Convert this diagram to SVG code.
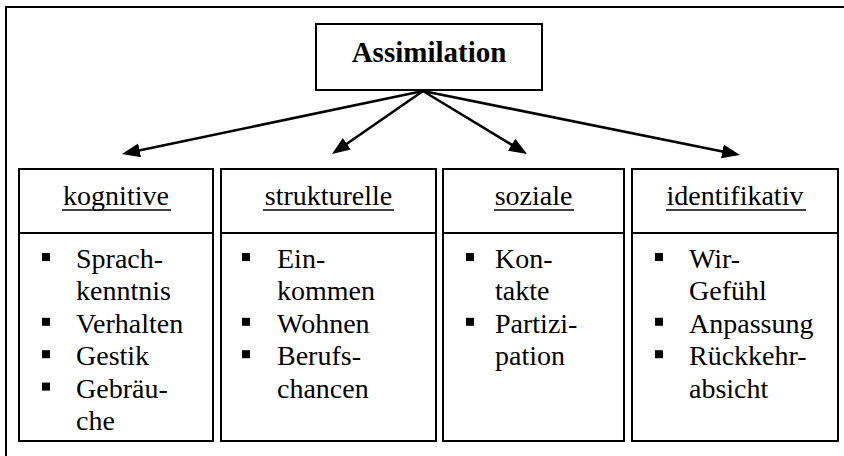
<svg xmlns="http://www.w3.org/2000/svg" width="844" height="456" viewBox="0 0 844 456">
  <style>
    .frame { fill: #fff; stroke: #000; stroke-width: 2; }
    .box { fill: #fff; stroke: #000; stroke-width: 2; }
    .rule { stroke: #000; stroke-width: 2; }
    .title { font-family: "Liberation Serif", "Times New Roman", serif; font-size: 29px; font-weight: bold; fill: #000; text-anchor: middle; }
    .head { font-family: "Liberation Serif", "Times New Roman", serif; font-size: 28px; fill: #000; text-anchor: middle; }
    .uline { stroke: #000; stroke-width: 1.6; }
    .item { font-family: "Liberation Serif", "Times New Roman", serif; font-size: 28px; fill: #000; }
    .bullet { fill: #000; }
    .conn { stroke: #000; stroke-width: 2.6; fill: none; marker-end: url(#arrow); }
  </style>
  <defs>
    <marker id="arrow" markerUnits="userSpaceOnUse" markerWidth="20" markerHeight="16" refX="14" refY="7" orient="auto">
      <path d="M0,0 L18,7 L0,14 Z" fill="#000"/>
    </marker>
  </defs>

  <!-- page frame (runs off the right and bottom edges) -->
  <rect class="frame" x="6" y="7" width="860" height="470"/>

  <!-- root node -->
  <g id="assimilation">
    <rect class="box" x="316" y="24" width="226" height="66"/>
    <text class="title" x="429" y="62">Assimilation</text>
  </g>

  <!-- connectors from root to the four dimensions -->
  <g id="connectors">
    <line class="conn" x1="423" y1="91" x2="125.9" y2="153.2"/>
    <line class="conn" x1="423" y1="91" x2="335.3" y2="151.7"/>
    <line class="conn" x1="423" y1="91" x2="523.6" y2="151.9"/>
    <line class="conn" x1="423" y1="91" x2="736.1" y2="154.2"/>
  </g>

  <!-- kognitive -->
  <g id="kognitive">
    <rect class="box" x="19" y="169" width="194" height="272"/>
    <line class="rule" x1="19" y1="233" x2="213" y2="233"/>
    <text class="head" x="116" y="205">kognitive</text>
    <line class="uline" x1="62" y1="210" x2="171" y2="210"/>
    <rect class="bullet" x="42" y="253" width="8" height="8"/>
    <text class="item" x="76" y="268">Sprach-</text>
    <text class="item" x="76" y="300.4">kenntnis</text>
    <rect class="bullet" x="42" y="317.8" width="8" height="8"/>
    <text class="item" x="76" y="332.8">Verhalten</text>
    <rect class="bullet" x="42" y="350.2" width="8" height="8"/>
    <text class="item" x="76" y="365.2">Gestik</text>
    <rect class="bullet" x="42" y="382.6" width="8" height="8"/>
    <text class="item" x="76" y="397.6">Gebräu-</text>
    <text class="item" x="76" y="430">che</text>
  </g>

  <!-- strukturelle -->
  <g id="strukturelle">
    <rect class="box" x="221" y="169" width="215" height="272"/>
    <line class="rule" x1="221" y1="233" x2="436" y2="233"/>
    <text class="head" x="328.5" y="205">strukturelle</text>
    <line class="uline" x1="263" y1="210" x2="394" y2="210"/>
    <rect class="bullet" x="242" y="253" width="8" height="8"/>
    <text class="item" x="277" y="268">Ein-</text>
    <text class="item" x="277" y="300.4">kommen</text>
    <rect class="bullet" x="242" y="317.8" width="8" height="8"/>
    <text class="item" x="277" y="332.8">Wohnen</text>
    <rect class="bullet" x="242" y="350.2" width="8" height="8"/>
    <text class="item" x="277" y="365.2">Berufs-</text>
    <text class="item" x="277" y="397.6">chancen</text>
  </g>

  <!-- soziale -->
  <g id="soziale">
    <rect class="box" x="443" y="169" width="181" height="272"/>
    <line class="rule" x1="443" y1="233" x2="624" y2="233"/>
    <text class="head" x="533.5" y="205">soziale</text>
    <line class="uline" x1="494" y1="210" x2="574" y2="210"/>
    <rect class="bullet" x="466" y="253" width="8" height="8"/>
    <text class="item" x="495" y="268">Kon-</text>
    <text class="item" x="495" y="300.4">takte</text>
    <rect class="bullet" x="466" y="317.8" width="8" height="8"/>
    <text class="item" x="495" y="332.8">Partizi-</text>
    <text class="item" x="495" y="365.2">pation</text>
  </g>

  <!-- identifikativ -->
  <g id="identifikativ">
    <rect class="box" x="632" y="169" width="206" height="272"/>
    <line class="rule" x1="632" y1="233" x2="838" y2="233"/>
    <text class="head" x="735" y="205">identifikativ</text>
    <line class="uline" x1="666" y1="210" x2="806" y2="210"/>
    <rect class="bullet" x="655" y="253" width="8" height="8"/>
    <text class="item" x="689" y="268">Wir-</text>
    <text class="item" x="689" y="300.4">Gefühl</text>
    <rect class="bullet" x="655" y="317.8" width="8" height="8"/>
    <text class="item" x="689" y="332.8">Anpassung</text>
    <rect class="bullet" x="655" y="350.2" width="8" height="8"/>
    <text class="item" x="689" y="365.2">Rückkehr-</text>
    <text class="item" x="689" y="397.6">absicht</text>
  </g>
</svg>
